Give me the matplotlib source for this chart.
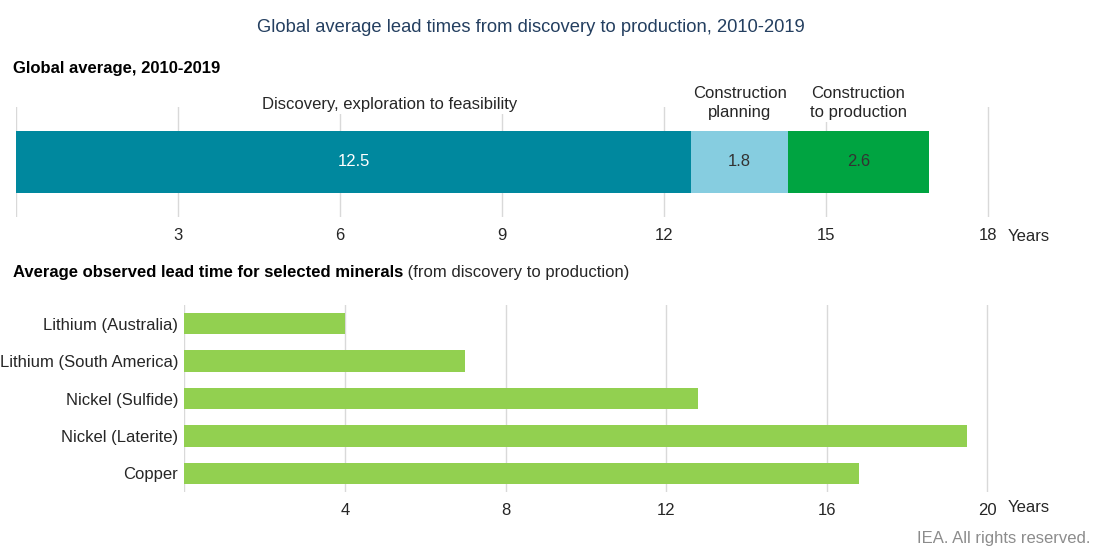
import matplotlib
matplotlib.use("Agg")
import matplotlib.pyplot as plt
from matplotlib.text import Annotation

plt.rcParams['font.family'] = ['Liberation Sans', 'DejaVu Sans']

# ---- data ----
stage_names = ["Discovery, exploration to feasibility", "Construction\nplanning", "Construction\nto production"]
stage_values = [12.5, 1.8, 2.6]
stage_colors = ["#00889e", "#86cde0", "#00a441"]
stage_text_colors = ["white", "#333333", "#333333"]
top_ticks = [0, 3, 6, 9, 12, 15, 18]
top_tick_labels = ["", "3", "6", "9", "12", "15", "18"]

minerals = ["Lithium (Australia)", "Lithium (South America)", "Nickel (Sulfide)", "Nickel (Laterite)", "Copper"]
mineral_years = [4.0, 7.0, 12.8, 19.5, 16.8]
bottom_ticks = [0, 4, 8, 12, 16, 20]
bottom_tick_labels = ["", "4", "8", "12", "16", "20"]

W, H = 1101, 560
fig = plt.figure(figsize=(W / 100, H / 100), dpi=100)
fig.patch.set_facecolor("white")

GRID = "#d9d9d9"
TXT = "#262626"
FS = 12

def px_axes(x0, y_top, x1, y_bot):
    return fig.add_axes([x0 / W, 1 - y_bot / H, (x1 - x0) / W, (y_bot - y_top) / H])

# ---- top chart ----
top_scale = 54.0
ax1 = px_axes(16, 107, 16 + 19 * top_scale, 217)
ax1.set_xlim(0, 19)
ax1.set_ylim(0, 1)
left = 0
for name, v, c, tc in zip(stage_names, stage_values, stage_colors, stage_text_colors):
    ax1.barh(0.5, v, left=left, height=0.57, color=c, zorder=2)
    ax1.text(left + v / 2, 0.5, f"{v}", ha="center", va="center", color=tc, fontsize=FS, zorder=3)
    left += v
# stage labels above bar
ax1.text(stage_values[0] / 2 + 0.67, 1.027, stage_names[0], ha="center", va="center",
         fontsize=FS, color=TXT, zorder=3, bbox=dict(fc="white", ec="none", pad=1.5))
cum = stage_values[0]
for name, v in zip(stage_names[1:], stage_values[1:]):
    ax1.text(cum + v / 2, 0.88, name, ha="center", va="bottom", fontsize=FS, color=TXT,
             linespacing=1.35, zorder=3, bbox=dict(fc="white", ec="none", pad=1.5))
    cum += v
ax1.set_xticks(top_ticks)
ax1.set_xticklabels(top_tick_labels)
ax1.set_yticks([])
ax1.grid(axis="x", color=GRID, linewidth=1, zorder=0)
ax1.tick_params(axis="x", length=0, pad=8, labelsize=FS, labelcolor=TXT)
for s in ax1.spines.values():
    s.set_visible(False)
ax1.set_axisbelow(True)

# ---- bottom chart ----
bot_scale = 40.15
ax2 = px_axes(184.3, 305, 184.3 + 20.2 * bot_scale, 492)
ypos = list(range(len(minerals)))
ax2.barh(ypos, mineral_years, height=0.575, color="#92d050", zorder=2)
ax2.set_xlim(0, 20.2)
ax2.set_ylim(len(minerals) - 0.5, -0.5)
ax2.set_yticks(ypos)
ax2.set_yticklabels(minerals)
ax2.set_xticks(bottom_ticks)
ax2.set_xticklabels(bottom_tick_labels)
ax2.grid(axis="x", color=GRID, linewidth=1, zorder=0)
ax2.tick_params(axis="x", length=0, pad=8, labelsize=FS, labelcolor=TXT)
ax2.tick_params(axis="y", length=0, pad=4.5, labelsize=FS, labelcolor=TXT)
for s in ax2.spines.values():
    s.set_visible(False)
ax2.set_axisbelow(True)

# ---- texts ----
fig.text(531 / W, 1 - 27 / H, "Global average lead times from discovery to production, 2010-2019",
         ha="center", va="center", fontsize=13.2, color="#243f60")
fig.text(13 / W, 1 - 68 / H, "Global average, 2010-2019", ha="left", va="center",
         fontsize=FS, fontweight="bold", color="black")
bt = fig.text(13 / W, 1 - 272 / H, "Average observed lead time for selected minerals", ha="left",
              va="center", fontsize=FS, fontweight="bold", color="black")
fig.add_artist(Annotation(" (from discovery to production)", xy=(1, 0),
                          xycoords=bt, ha="left", va="bottom", fontsize=FS, color=TXT))
fig.text(1008 / W, 1 - 236 / H, "Years", ha="left", va="center", fontsize=FS, color=TXT)
fig.text(1008 / W, 1 - 508 / H, "Years", ha="left", va="center", fontsize=FS, color=TXT)
fig.text(1090 / W, 1 - 538 / H, "IEA. All rights reserved.", ha="right", va="center",
         fontsize=FS, color="#8c8c8c")

fig.savefig("out.png", dpi=100, facecolor="white")
